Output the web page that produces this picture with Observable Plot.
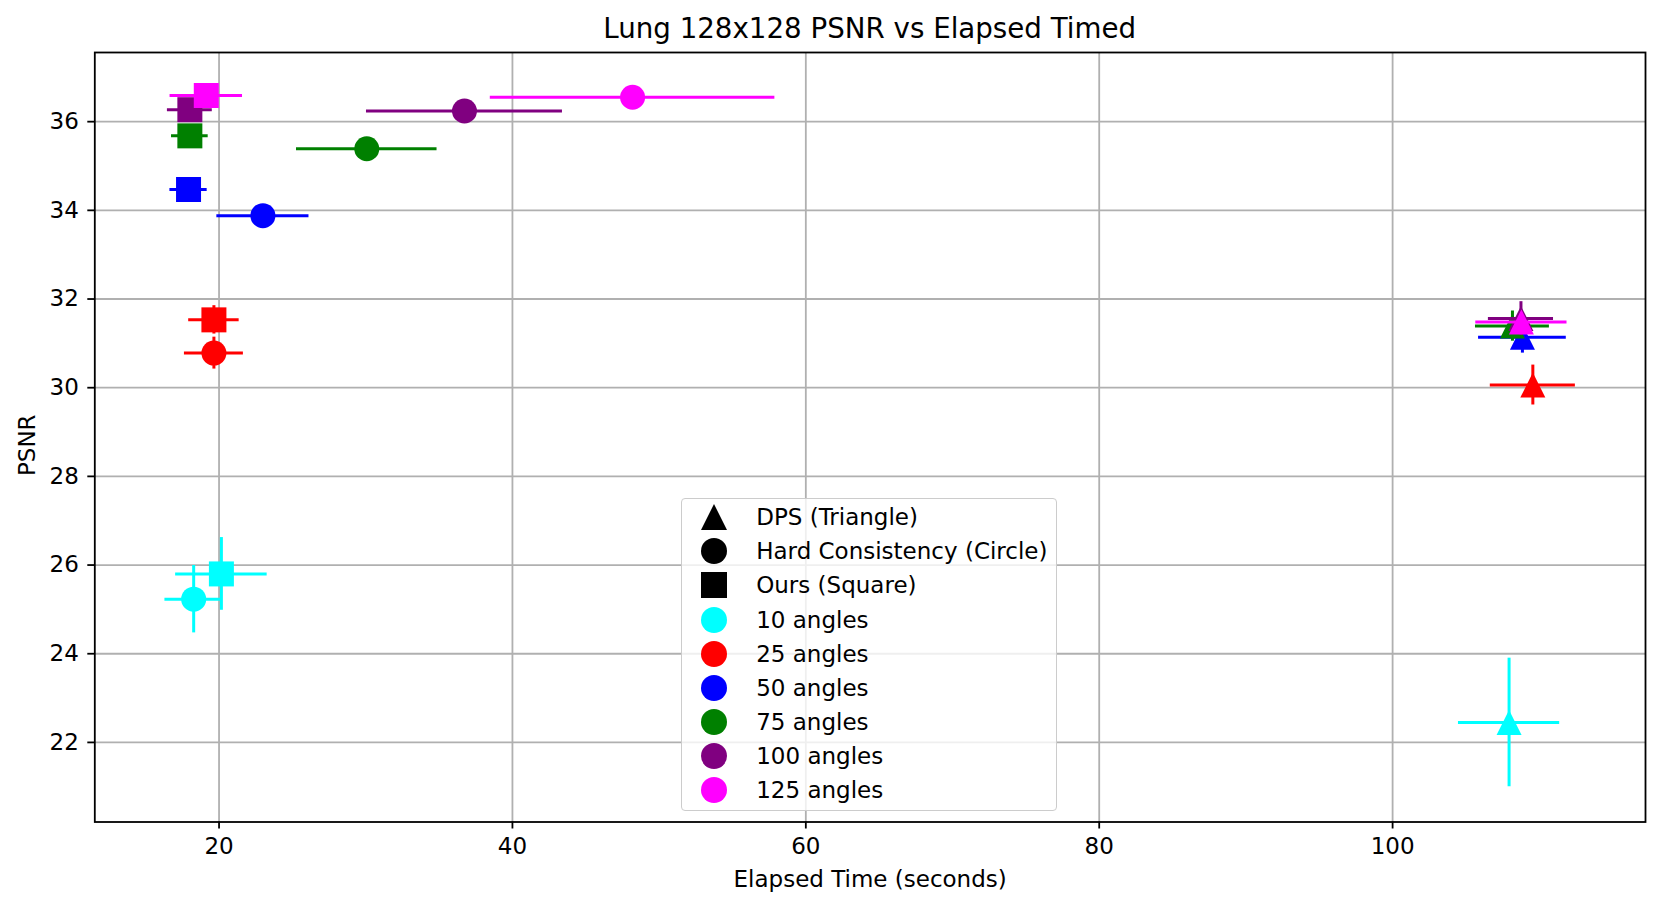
<!DOCTYPE html>
<html>
<head>
<meta charset="utf-8">
<script src="https://cdn.jsdelivr.net/npm/d3@7"></script>
<script src="https://cdn.jsdelivr.net/npm/@observablehq/plot@0.6"></script>
<style>
  body { margin: 0; background: #fff; font-family: "DejaVu Sans", sans-serif; }
  #wrap { position: relative; width: 1662px; height: 909px; overflow: hidden; }
  #title { position: absolute; left: 94.3px; width: 1550.7px; top: 15px; text-align: center;
           font-size: 27.7px; line-height: 27.7px; color: #000; white-space: nowrap; }
  #chart { position: absolute; left: 0; top: 50px; }
  #legend { position: absolute; left: 680.7px; top: 498.3px; width: 374.6px; height: 310.7px;
            border: 1.5px solid #cccccc; border-radius: 4px; background: rgba(255,255,255,0.8);
            box-sizing: content-box; }
  .row { position: absolute; left: 0; height: 34px; width: 100%; }
  .row svg { position: absolute; left: 19px; top: 4px; }
  .row span { position: absolute; left: 74.5px; top: 0; line-height: 34px; font-size: 23px; color: #000; white-space: nowrap; }
</style>
</head>
<body>
<div id="wrap">
  <div id="title"></div>
  <div id="chart"></div>
  <div id="legend"></div>
</div>
<script>
// ---- data ----
const title = "Lung 128x128 PSNR vs Elapsed Timed";
const xLabel = "Elapsed Time (seconds)";
const yLabel = "PSNR";
const methods = ["DPS (Triangle)", "Hard Consistency (Circle)", "Ours (Square)"];
const angleLabels = ["10 angles", "25 angles", "50 angles", "75 angles", "100 angles", "125 angles"];
const angleColors = ["#00ffff", "#ff0000", "#0000ff", "#008000", "#800080", "#ff00ff"];
const xTicks = [20, 40, 60, 80, 100];
const yTicks = [22, 24, 26, 28, 30, 32, 34, 36];

// DPS (triangle)
const dpsTime     = [107.94, 109.56, 108.85, 108.17, 108.75, 108.78];
const dpsTimeErr  = [3.45, 2.90, 2.99, 2.52, 2.22, 3.11];
const dpsPsnr     = [22.45, 30.06, 31.14, 31.39, 31.56, 31.48];
const dpsPsnrErr  = [1.45, 0.45, 0.36, 0.34, 0.38, 0.20];
// Hard Consistency (circle)
const hcTime      = [18.27, 19.65, 22.99, 30.07, 36.73, 48.19];
const hcTimeErr   = [1.96, 2.01, 3.14, 4.79, 6.68, 9.70];
const hcPsnr      = [25.23, 30.78, 33.88, 35.39, 36.24, 36.55];
const hcPsnrErr   = [0.76, 0.36, 0.25, 0.20, 0.20, 0.23];
// Ours (square)
const oursTime    = [20.16, 19.65, 17.92, 18.01, 18.01, 19.13];
const oursTimeErr = [3.12, 1.72, 1.27, 1.25, 1.53, 2.47];
const oursPsnr    = [25.80, 31.53, 34.47, 35.68, 36.27, 36.59];
const oursPsnrErr = [0.82, 0.32, 0.15, 0.15, 0.15, 0.19];

// ---- symbols (matplotlib-like: bbox-centred, width = height) ----
const symSquare = { draw(ctx, size) { const h = Math.sqrt(size / Math.PI); ctx.rect(-h, -h, 2 * h, 2 * h); } };
const symTriangle = { draw(ctx, size) { const h = Math.sqrt(size / Math.PI); ctx.moveTo(0, -h); ctx.lineTo(h, h); ctx.lineTo(-h, h); ctx.closePath(); } };
const methodSeries = [
  { name: methods[0], symbol: symTriangle, t: dpsTime, te: dpsTimeErr, p: dpsPsnr, pe: dpsPsnrErr },
  { name: methods[1], symbol: "circle", t: hcTime, te: hcTimeErr, p: hcPsnr, pe: hcPsnrErr },
  { name: methods[2], symbol: symSquare, t: oursTime, te: oursTimeErr, p: oursPsnr, pe: oursPsnrErr }
];

const dataMarks = [];
angleLabels.forEach((a, ai) => {
  methodSeries.forEach(ms => {
    const d = [{ t: ms.t[ai], p: ms.p[ai], x1: ms.t[ai] - ms.te[ai], x2: ms.t[ai] + ms.te[ai],
                 y1: ms.p[ai] - ms.pe[ai], y2: ms.p[ai] + ms.pe[ai] }];
    const c = angleColors[ai];
    dataMarks.push(Plot.ruleY(d, { y: "p", x1: "x1", x2: "x2", stroke: c, strokeWidth: 3 }));
    dataMarks.push(Plot.ruleX(d, { x: "t", y1: "y1", y2: "y2", stroke: c, strokeWidth: 3 }));
    dataMarks.push(Plot.dot(d, { x: "t", y: "p", r: 12.5, fill: c, stroke: null, symbol: ms.symbol }));
  });
});

const chart = Plot.plot({
  width: 1662,
  height: 859,
  marginTop: 2,
  marginBottom: 87.5,
  marginLeft: 94.3,
  marginRight: 17,
  style: { fontFamily: "DejaVu Sans", fontSize: "23px", color: "black", background: "white", overflow: "visible" },
  x: { domain: [11.53, 117.24] },
  y: { domain: [20.205, 37.56] },
  marks: [
    Plot.gridX({ ticks: xTicks, stroke: "#b0b0b0", strokeOpacity: 1, strokeWidth: 1.8 }),
    Plot.gridY({ ticks: yTicks, stroke: "#b0b0b0", strokeOpacity: 1, strokeWidth: 1.8 }),
    ...dataMarks,
    Plot.frame({ stroke: "black", strokeWidth: 1.8 }),
    Plot.axisX({ ticks: xTicks, tickSize: 7, tickPadding: 9, strokeWidth: 1.8, label: null, fontSize: 23, tickFormat: d => String(d) }),
    Plot.axisY({ ticks: yTicks, tickSize: 7, tickPadding: 9, strokeWidth: 1.8, label: null, fontSize: 23, tickFormat: d => String(d) }),
    Plot.text([xLabel], { text: d => d, frameAnchor: "bottom", dy: 65, fontSize: 23, fill: "black" }),
    Plot.text([yLabel], { text: d => d, frameAnchor: "left", textAnchor: "middle", dx: -66.8, dy: 8, rotate: -90, fontSize: 23, fill: "black" })
  ]
});
document.getElementById("chart").appendChild(chart);
document.getElementById("title").textContent = title;

// ---- legend ----
const legend = document.getElementById("legend");
const legendItems = [
  { label: methods[0], color: "#000", shape: "triangle" },
  { label: methods[1], color: "#000", shape: "circle" },
  { label: methods[2], color: "#000", shape: "square" },
  ...angleLabels.map((a, i) => ({ label: a, color: angleColors[i], shape: "circle" }))
];
legendItems.forEach((it, i) => {
  const row = document.createElement("div");
  row.className = "row";
  row.style.top = (1 + i * 34.1) + "px";
  const s = 26;
  let shape;
  if (it.shape === "triangle") shape = `<polygon points="${s/2},0 ${s},${s} 0,${s}" fill="${it.color}"/>`;
  else if (it.shape === "square") shape = `<rect x="0" y="0" width="${s}" height="${s}" fill="${it.color}"/>`;
  else shape = `<circle cx="${s/2}" cy="${s/2}" r="${s/2}" fill="${it.color}"/>`;
  row.innerHTML = `<svg width="${s}" height="${s}" viewBox="0 0 ${s} ${s}">${shape}</svg><span></span>`;
  row.querySelector("span").textContent = it.label;
  legend.appendChild(row);
});
</script>
</body>
</html>
